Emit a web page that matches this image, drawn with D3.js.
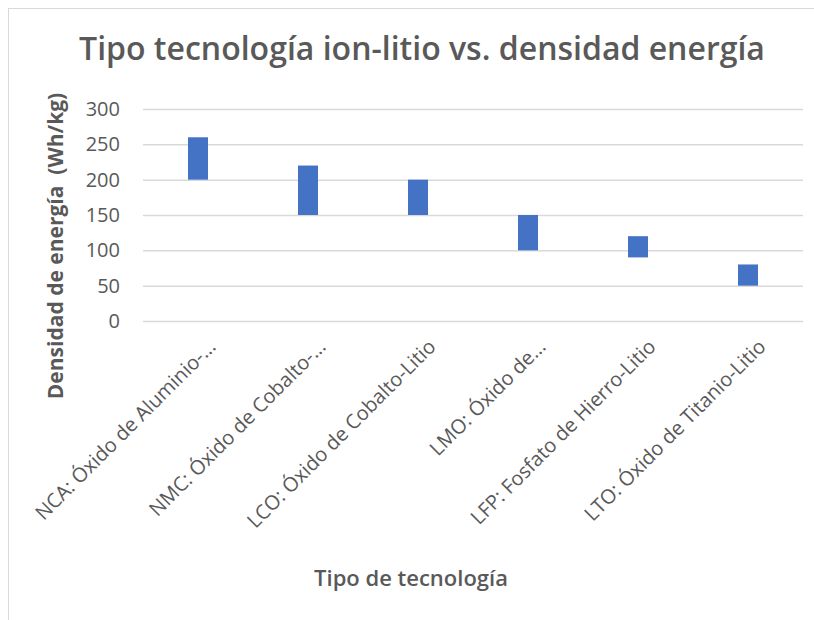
<!DOCTYPE html>
<html>
<head>
<meta charset="utf-8">
<script src="https://cdn.jsdelivr.net/npm/d3@7"></script>
<style>
  body { margin: 0; background: #fff; }
  text { font-family: "Open Sans", sans-serif; fill: #595959; }
</style>
</head>
<body>
<div id="chart-area"></div>
<script>
// DATA
const categories = [
    'NCA: Óxido de Aluminio-...',
    'NMC: Óxido de Cobalto-...',
    'LCO: Óxido de Cobalto-Litio',
    'LMO: Óxido de...',
    'LFP: Fosfato de Hierro-Litio',
    'LTO: Óxido de Titanio-Litio'
]
const minValues = [200, 150, 150, 100, 90, 50]
const maxValues = [260, 220, 200, 150, 120, 80]
const yTicks = [0, 50, 100, 150, 200, 250, 300]

// SET CHART MARGINS
const margin = { top: 109, left: 143, right: 11, bottom: 299 }
const W = 814
const H = 620
const width = W - margin.left - margin.right
const height = H - margin.top - margin.bottom

const svg = d3.select('#chart-area')
              .append('svg')
              .attr('width', W)
              .attr('height', H)

// FRAME
svg.append('rect')
   .attr('x', 8.5).attr('y', 8.5)
   .attr('width', 900).attr('height', 900)
   .attr('fill', 'none')
   .attr('stroke', '#d9d9d9')

const g = svg.append('g')
             .attr('transform', 'translate(' + margin.left + ',' + margin.top + ')')

// SCALES
const x = d3.scaleBand()
            .domain(categories)
            .range([0, width])

const y = d3.scaleLinear()
            .domain([0, 300])
            .range([height, 0])

// GRID + Y AXIS
const yAxisCall = d3.axisLeft(y)
                    .tickValues(yTicks)
                    .tickSize(-width)
                    .tickPadding(23)
const yAxisGroup = g.append('g').call(yAxisCall)
yAxisGroup.select('.domain').remove()
yAxisGroup.selectAll('line').attr('stroke', '#d9d9d9').attr('stroke-width', 1.5)
yAxisGroup.selectAll('text')
          .attr('font-size', '20px')
          .style('fill', '#595959')

// X AXIS
const xAxisGroup = g.append('g')
                    .attr('transform', 'translate(0,' + height + ')')
                    .call(d3.axisBottom(x).tickSize(0))
xAxisGroup.select('.domain').remove()
xAxisGroup.selectAll('text')
          .attr('font-size', '20px')
          .style('fill', '#595959')
          .attr('text-anchor', 'end')
          .attr('dy', '0.35em')
          .attr('transform', 'translate(14,22) rotate(-45)')
          .attr('y', 0)

// BARS
const data = categories.map((c, i) => ({ cat: c, lo: minValues[i], hi: maxValues[i] }))
g.selectAll('rect.bar')
 .data(data)
 .enter()
 .append('rect')
 .attr('class', 'bar')
 .attr('x', d => x(d.cat) + x.bandwidth() / 2 - 10)
 .attr('width', 20)
 .attr('y', d => y(d.hi))
 .attr('height', d => y(d.lo) - y(d.hi))
 .attr('fill', '#4472c4')

// TITLE
svg.append('text')
   .attr('x', 422)
   .attr('y', 60)
   .attr('text-anchor', 'middle')
   .attr('font-size', '32px')
   .attr('font-weight', 600)
   .text('Tipo tecnología ion-litio vs. densidad energía')

// AXIS LABELS
svg.append('text')
   .attr('x', 411)
   .attr('y', 586)
   .attr('text-anchor', 'middle')
   .attr('font-size', '22px')
   .attr('font-weight', 600)
   .text('Tipo de tecnología')

svg.append('text')
   .attr('transform', 'translate(63,246) rotate(-90)')
   .attr('text-anchor', 'middle')
   .attr('font-size', '21px')
   .attr('font-weight', 700)
   .attr('xml:space', 'preserve')
   .style('white-space', 'pre')
   .text('Densidad de energía  (Wh/kg)')
</script>
</body>
</html>
